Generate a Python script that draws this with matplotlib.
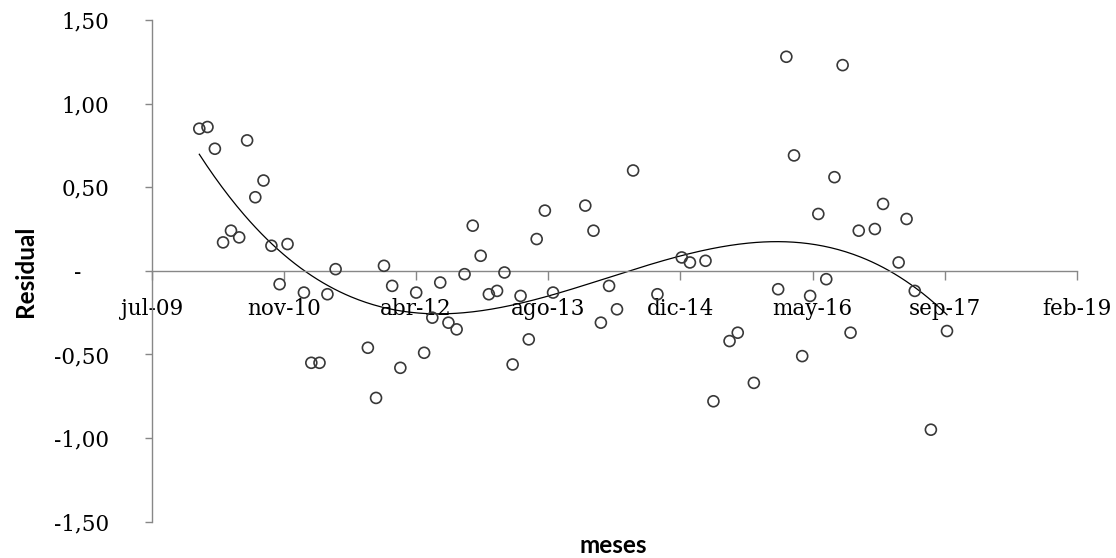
import numpy as np
import pandas as pd
import matplotlib
matplotlib.use("Agg")
import matplotlib.pyplot as plt
import matplotlib.dates as mdates
from numpy.polynomial import Polynomial

# Monthly residuals
months = [
    "2010-01", "2010-02", "2010-03", "2010-04", "2010-05", "2010-06",
    "2010-07", "2010-08", "2010-09", "2010-10", "2010-11", "2010-12",
    "2011-02", "2011-03", "2011-04", "2011-05", "2011-06",
    "2011-10", "2011-11", "2011-12", "2012-01", "2012-02",
    "2012-04", "2012-05", "2012-06", "2012-07", "2012-08", "2012-09",
    "2012-10", "2012-11", "2012-12", "2013-01", "2013-02", "2013-03",
    "2013-04", "2013-05", "2013-06", "2013-07", "2013-08", "2013-09",
    "2014-01", "2014-02", "2014-03", "2014-04", "2014-05",
    "2014-07", "2014-10", "2015-01", "2015-02", "2015-04", "2015-05",
    "2015-07", "2015-08", "2015-10",
    "2016-01", "2016-02", "2016-03", "2016-04", "2016-05", "2016-06",
    "2016-07", "2016-08", "2016-09", "2016-10", "2016-11",
    "2017-01", "2017-02", "2017-04", "2017-05", "2017-06", "2017-08", "2017-10",
]
residuals = [
    0.85, 0.86, 0.73, 0.17, 0.24, 0.20, 0.78, 0.44, 0.54, 0.15, -0.08, 0.16,
    -0.13, -0.55, -0.55, -0.14, 0.01,
    -0.46, -0.76, 0.03, -0.09, -0.58,
    -0.13, -0.49, -0.28, -0.07, -0.31, -0.35, -0.02, 0.27, 0.09, -0.14,
    -0.12, -0.01, -0.56, -0.15, -0.41, 0.19, 0.36, -0.13,
    0.39, 0.24, -0.31, -0.09, -0.23,
    0.60, -0.14, 0.08, 0.05, 0.06, -0.78, -0.42, -0.37, -0.67,
    -0.11, 1.28, 0.69, -0.51, -0.15, 0.34, -0.05, 0.56, 1.23, -0.37, 0.24,
    0.25, 0.40, 0.05, 0.31, -0.12, -0.95, -0.36,
]

# Axis scale: date ticks every 500 days
x_start = "2009-07-06"
x_tick_labels = ["jul-09", "nov-10", "abr-12", "ago-13", "dic-14", "may-16", "sep-17", "feb-19"]
y_ticks = [1.5, 1.0, 0.5, 0.0, -0.5, -1.0, -1.5]
y_tick_labels = ["1,50", "1,00", "0,50", "-    ", "-0,50", "-1,00", "-1,50"]

x_dates = mdates.date2num(pd.to_datetime(months, format="%Y-%m"))
y_vals = np.array(residuals)

tick_dates = mdates.date2num(pd.date_range(x_start, periods=len(x_tick_labels), freq="500D"))

fig = plt.figure(figsize=(11.16, 5.58), dpi=100)
ax = fig.add_axes([0.1362, 0.0651, 0.8286, 0.8991])

# Cubic trend line
trend = Polynomial.fit(x_dates, y_vals, 3)
xx = np.linspace(x_dates.min(), x_dates.max(), 400)
ax.plot(xx, trend(xx), color="black", lw=0.9, zorder=2)

ax.scatter(x_dates, y_vals, s=62, facecolors="none", edgecolors="#383838",
           linewidths=1.2, zorder=3)

ax.set_xlim(tick_dates[0], tick_dates[-1])
ax.set_ylim(-1.5, 1.5)

grey = "#878787"
for side in ("top", "right"):
    ax.spines[side].set_visible(False)
ax.spines["left"].set_color(grey)
ax.spines["bottom"].set_color(grey)
ax.spines["bottom"].set_position(("data", 0))
ax.spines["left"].set_linewidth(1.0)
ax.spines["bottom"].set_linewidth(1.0)

tick_font = dict(family="DejaVu Serif", size=15.5)
ax.set_xticks(tick_dates)
ax.set_xticklabels(x_tick_labels, **tick_font)
ax.set_yticks(y_ticks)
ax.set_yticklabels(y_tick_labels, **tick_font)
ax.tick_params(axis="x", direction="out", length=6.5, width=1.0, color=grey, pad=13)
ax.tick_params(axis="y", direction="out", length=5, width=1.0, color=grey, pad=26)

label_font = dict(family="Lato", weight="bold", size=17.5)
ax.set_ylabel("Residual", **label_font)
ax.yaxis.set_label_coords(-0.124, 0.5)
fig.text(0.5495, 0.023, "meses", ha="center", va="center", **label_font)

fig.savefig("out.png", dpi=100)
